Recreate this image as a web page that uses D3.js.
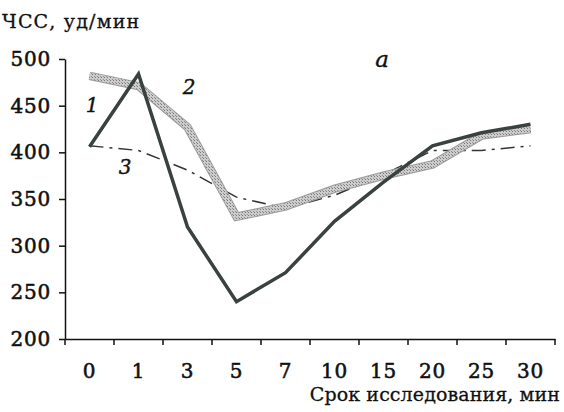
<!DOCTYPE html>
<html>
<head>
<meta charset="utf-8">
<script src="https://cdn.jsdelivr.net/npm/d3@7"></script>
<style>
  body { margin: 0; background: #fff; }
  svg { display: block; }
  text { font-family: "DejaVu Serif", "Liberation Serif", serif; fill: #111; }
</style>
</head>
<body>
<svg id="chart" width="564" height="412"></svg>
<script>
// time points (min)
const times = ['0', '1', '3', '5', '7', '10', '15', '20', '25', '30'];
// heart rate, beats/min
const series1 = [406, 484, 320, 240, 271, 326, 368, 407, 421, 430];
const series2 = [482, 471, 427, 331, 342, 361, 375, 387, 418, 425];
const series3 = [407, 402, 381, 352, 340, 354, 376, 402, 402, 407];
const yTicks = [200, 250, 300, 350, 400, 450, 500];

const svg = d3.select('#chart');
const margin = { top: 59, right: 9, bottom: 73, left: 65 };
const width = 564 - margin.left - margin.right;
const height = 412 - margin.top - margin.bottom;

// crosshatched grey pattern for curve 2
const defs = svg.append('defs');
const pat = defs.append('pattern')
    .attr('id', 'hatch')
    .attr('patternUnits', 'userSpaceOnUse')
    .attr('width', 3).attr('height', 3);
pat.append('rect').attr('width', 3).attr('height', 3).attr('fill', '#cccccc');
pat.append('rect').attr('width', 1).attr('height', 1).attr('fill', '#7a7a7a');
pat.append('rect').attr('x', 2).attr('y', 2).attr('width', 1).attr('height', 1).attr('fill', '#8f8f8f');

const g = svg.append('g').attr('transform', `translate(${margin.left},${margin.top})`);

const x = d3.scaleBand().domain(times).range([0, width]);
const y = d3.scaleLinear().domain([200, 500]).range([height, 0]);

const styleTickText = sel => sel
    .attr('font-size', 20)
    .attr('letter-spacing', 0.8)
    .attr('stroke', '#111')
    .attr('stroke-width', 0.55)
    .attr('font-family', '"DejaVu Serif", serif');

// axes
const xAxis = g.append('g')
    .attr('transform', `translate(0,${height})`)
    .call(d3.axisBottom(x).tickSize(0).tickPadding(25));
xAxis.select('.domain').attr('stroke', '#111').attr('stroke-width', 1.5);
xAxis.selectAll('text').call(styleTickText);

// outer ticks on band edges
g.append('g')
    .selectAll('line')
    .data(times.concat(['end']))
    .join('line')
    .attr('x1', (d, i) => i * x.step())
    .attr('x2', (d, i) => i * x.step())
    .attr('y1', height)
    .attr('y2', height + 6)
    .attr('stroke', '#111')
    .attr('stroke-width', 1.5);

const yAxis = g.append('g')
    .call(d3.axisLeft(y).tickValues(yTicks).tickSize(6).tickSizeOuter(0).tickPadding(8));
yAxis.select('.domain').attr('stroke', '#111').attr('stroke-width', 1.5);
yAxis.selectAll('.tick line').attr('stroke', '#111').attr('stroke-width', 1.5);
yAxis.selectAll('text').call(styleTickText);

const line = d3.line()
    .x((d, i) => x(times[i]) + x.bandwidth() / 2)
    .y(d => y(d));

// curve 3 – dash-dot
g.append('path')
    .datum(series3)
    .attr('fill', 'none')
    .attr('stroke', '#2f3633')
    .attr('stroke-width', 1.5)
    .attr('stroke-dasharray', '14 6 3 6')
    .attr('d', line);

// curve 2 – thick hatched band with a soft darker edge
g.append('path')
    .datum(series2)
    .attr('fill', 'none')
    .attr('stroke', '#9c9c9c')
    .attr('stroke-width', 8.5)
    .attr('stroke-linejoin', 'miter')
    .attr('d', line);
g.append('path')
    .datum(series2)
    .attr('fill', 'none')
    .attr('stroke', 'url(#hatch)')
    .attr('stroke-width', 6.5)
    .attr('stroke-linejoin', 'miter')
    .attr('d', line);

// curve 1 – solid dark
g.append('path')
    .datum(series1)
    .attr('fill', 'none')
    .attr('stroke', '#3a4240')
    .attr('stroke-width', 3.5)
    .attr('stroke-linejoin', 'miter')
    .attr('d', line);

// curve labels
const labels = [
    { t: '1', x: 92, y: 112 },
    { t: '2', x: 189, y: 94 },
    { t: '3', x: 125, y: 174 }
];
svg.selectAll('.lbl')
    .data(labels)
    .join('text')
    .attr('class', 'lbl')
    .attr('x', d => d.x)
    .attr('y', d => d.y)
    .attr('text-anchor', 'middle')
    .attr('font-style', 'italic')
    .attr('font-size', 20)
    .attr('stroke', '#111')
    .attr('stroke-width', 0.4)
    .text(d => d.t);

svg.append('text')
    .attr('x', 382).attr('y', 67)
    .attr('text-anchor', 'middle')
    .attr('font-style', 'italic')
    .attr('font-size', 23)
    .attr('stroke', '#111')
    .attr('stroke-width', 0.4)
    .text('а');

// axis titles
svg.append('text')
    .attr('x', 2).attr('y', 28)
    .attr('font-size', 19)
    .attr('letter-spacing', 1.2)
    .attr('stroke', '#111')
    .attr('stroke-width', 0.3)
    .text('ЧСС, уд/мин');

svg.append('text')
    .attr('x', 560).attr('y', 401)
    .attr('text-anchor', 'end')
    .attr('font-size', 19)
    .attr('letter-spacing', 0.1)
    .attr('stroke', '#111')
    .attr('stroke-width', 0.3)
    .text('Срок исследования, мин');
</script>
</body>
</html>
